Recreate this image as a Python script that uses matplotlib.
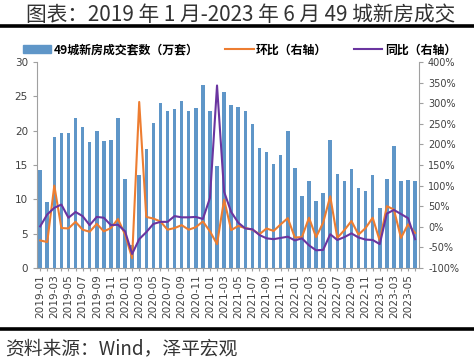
import matplotlib
matplotlib.use('Agg')
import matplotlib.pyplot as plt
from matplotlib.lines import Line2D
from matplotlib.patches import Patch

plt.rcParams['font.family'] = ['DejaVu Sans', 'Noto Sans CJK SC']

# monthly labels 2019-01 .. 2023-06
months = ['%d-%02d' % (y, m) for y in range(2019, 2024) for m in range(1, 13)][:54]

# 49城新房成交套数（万套）
deals = [14.3, 9.6, 19.1, 19.7, 19.6, 21.8, 20.6, 18.4, 19.9, 18.5, 18.7, 21.8,
         13.0, 3.3, 13.5, 17.4, 21.1, 24.1, 22.8, 23.2, 24.3, 22.8, 23.3, 26.6,
         22.9, 14.8, 25.6, 23.8, 23.5, 22.9, 21.0, 17.5, 16.9, 15.2, 16.5, 19.9,
         14.5, 10.5, 12.7, 9.8, 10.9, 18.6, 13.7, 12.7, 14.4, 11.6, 11.2, 13.5,
         8.7, 12.9, 17.7, 12.7, 12.8, 12.7]

# 环比 (%)
mom = [-33, -37, 100, -3, -4, 12, -7, -12, 7, -11, -3, 19,
       -19, -76, 303, 24, 20, 13, -7, -3, 4, -7, -1, 13,
       -11, -42, 66, -8, 2, -3, -7, -18, -4, -10, 6, 21,
       -26, -25, 22, -25, 10, 74, -27, -8, 14, -19, -3, 22,
       -34, 50, 42, -27, 6, -15]

# 同比 (%)
yoy = [1, 30, 46, 54, 22, 36, 26, 4, 24, 22, 4, 5,
       -11, -66, -30, -13, 7, 12, 12, 26, 23, 23, 24, 19,
       70, 343, 85, 36, 10, -4, -6, -20, -28, -30, -27, -24,
       -33, -28, -45, -57, -56, -18, -32, -25, -16, -26, -31, -32,
       -42, 32, 41, 31, 21, -30]

bar_color = '#5f96c8'
orange = '#ed7d31'
purple = '#6a35a0'
grey = '#a0a0a0'
txt = '#404040'

fig = plt.figure(figsize=(4.74, 3.63), dpi=100)
ax = fig.add_axes([0.078, 0.2617, 0.806, 0.5675])
x = list(range(len(months)))
ax.bar(x, deals, width=0.5, color=bar_color)
ax.set_ylim(0, 30)
ax.set_yticks([0, 5, 10, 15, 20, 25, 30])
ax.set_xlim(-0.45, 53.55)
ax.set_xticks(x)
ax.set_xticklabels([m if i % 2 == 0 else '' for i, m in enumerate(months)],
                   rotation=90, fontsize=7.6, color=txt)
ax.tick_params(axis='y', labelsize=7.5, colors=txt, length=3, color=grey)
ax.tick_params(axis='x', length=2.5, color=grey, pad=2)
ax.spines['top'].set_visible(False)
ax.spines['right'].set_visible(False)
for s in ['left', 'bottom']:
    ax.spines[s].set_color(grey)

ax2 = ax.twinx()
ax2.plot(x, mom, color=orange, lw=1.5)
ax2.plot(x, yoy, color=purple, lw=1.5)
ax2.set_ylim(-100, 400)
ax2.set_yticks(range(-100, 401, 50))
ax2.set_yticklabels(['%d%%' % v for v in range(-100, 401, 50)])
ax2.tick_params(axis='y', labelsize=7, colors=txt, length=3, color=grey)
ax2.spines['top'].set_visible(False)
ax2.spines['left'].set_visible(False)
ax2.spines['bottom'].set_visible(False)
ax2.spines['right'].set_color(grey)

handles = [Patch(color=bar_color),
           Line2D([], [], color=orange, lw=1.5),
           Line2D([], [], color=purple, lw=1.5)]
labels = ['49城新房成交套数（万套）', '环比（右轴）', '同比（右轴）']
fig.legend(handles, labels, loc='center', bbox_to_anchor=(0.505, 1 - 50 / 363),
           ncol=3, frameon=False, handlelength=2.4,
           handleheight=0.6, columnspacing=2.2, handletextpad=0.2,
           prop={'family': ['Noto Sans CJK SC'], 'size': 8.6, 'weight': 'bold'})

fig.text(26 / 474, 1 - 15 / 363, '图表：2019 年 1 月-2023 年 6 月 49 城新房成交',
         fontsize=14.9, color='#333333', va='center', ha='left',
         family=['Noto Sans CJK SC'], fontweight='light')
fig.add_artist(Line2D([0.0, 1.0], [1 - 26 / 363] * 2, color='black', lw=2.6,
                      transform=fig.transFigure))
fig.add_artist(Line2D([0.0, 1.0], [1 - 329 / 363] * 2, color='black', lw=2.6,
                      transform=fig.transFigure))
fig.text(5 / 474, 1 - 349 / 363, '资料来源：Wind，泽平宏观', fontsize=13.5,
         color='#333333', va='center', ha='left',
         family=['Noto Sans CJK SC'], fontweight='light')

fig.savefig('out.png', dpi=100)
